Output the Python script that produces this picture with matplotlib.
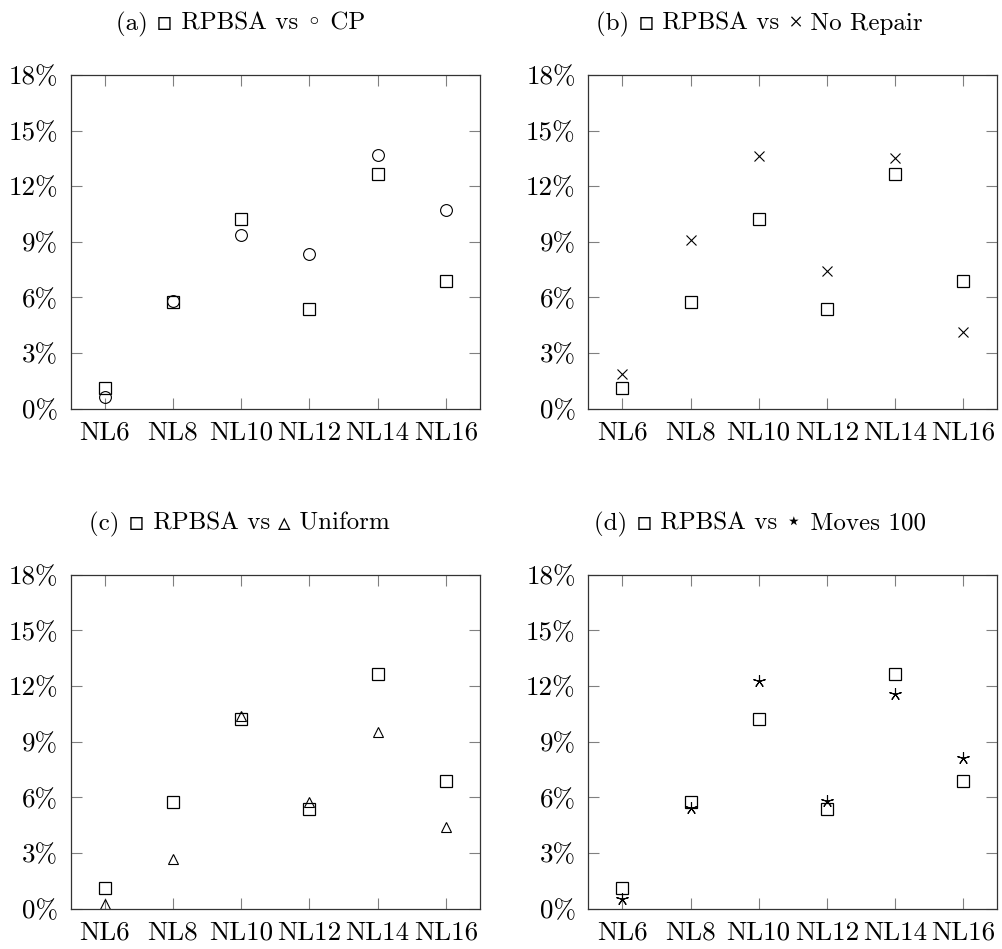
import matplotlib
matplotlib.use("Agg")
import matplotlib.pyplot as plt
from matplotlib.ticker import FuncFormatter

plt.rcParams['font.family'] = ['cmr10', 'DejaVu Sans']
plt.rcParams['axes.unicode_minus'] = False

# instances
instances = ["NL6", "NL8", "NL10", "NL12", "NL14", "NL16"]

# gap values in %
rpbsa = [1.10, 5.77, 10.23, 5.37, 12.64, 6.88]
cp = [0.65, 5.82, 9.36, 8.36, 13.68, 10.71]
no_repair = [1.87, 9.10, 13.62, 7.41, 13.51, 4.12]
uniform = [0.27, 2.66, 10.38, 5.75, 9.50, 4.42]
moves_100 = [0.50, 5.44, 12.25, 5.82, 11.59, 8.14]

y_ticks = [0, 3, 6, 9, 12, 15, 18]

SYM = "DejaVu Sans"
# title parts (text, fallback font), series, marker, marker size, axes rect, title start (px)
panels = [
    ([("(a) ", SYM), ("▫", SYM), (" RPBSA vs ", SYM), ("◦", SYM), (" CP", SYM)],
     cp, "o", 8.5, [0.0704, 0.5693, 0.4086, 0.3517], (116, 30)),
    ([("(b) ", SYM), ("▫", SYM), (" RPBSA vs ", SYM), ("×", "Liberation Serif"), (" No Repair", SYM)],
     no_repair, "x", 6.5, [0.5871, 0.5693, 0.4082, 0.3517], (596, 30)),
    ([("(c) ", SYM), ("▫", SYM), (" RPBSA vs ", SYM), ("▵", SYM), (" Uniform", SYM)],
     uniform, "^", 7.5, [0.0704, 0.0425, 0.4086, 0.3519], (89, 530)),
    ([("(d) ", SYM), ("▫", SYM), (" RPBSA vs ", SYM), ("⋆", SYM), (" Moves 100", SYM)],
     moves_100, (5, 2, 0), 9, [0.5871, 0.0425, 0.4082, 0.3519], (594, 530)),
]

fig = plt.figure(figsize=(10.02, 9.49), dpi=100)
renderer = fig.canvas.get_renderer()
x = list(range(len(instances)))

for parts, other, marker, msize, rect, tpos in panels:
    ax = fig.add_axes(rect)
    ax.plot(x, rpbsa, linestyle="none", marker="s", markersize=8,
            markerfacecolor="none", markeredgecolor="black", markeredgewidth=0.9)
    ax.plot(x, other, linestyle="none", marker=marker, markersize=msize,
            markerfacecolor="none", markeredgecolor="black", markeredgewidth=0.8,
            color="black")
    ax.set_xlim(-0.5, 5.5)
    ax.set_ylim(0, 18)
    ax.set_xticks(x)
    ax.set_xticklabels(instances)
    ax.set_yticks(y_ticks)
    ax.yaxis.set_major_formatter(FuncFormatter(lambda v, p: f"{v:.0f}%"))
    ax.tick_params(direction="in", length=8, width=0.8, color="#808080",
                   top=True, right=True, labelsize=19.5, pad=9)
    for s in ax.spines.values():
        s.set_linewidth(0.9)
        s.set_color("#333333")

    # title pieces on one baseline, so each symbol may use its own font
    px = tpos[0]
    for txt, fb in parts:
        t = fig.text(px / 1002, 1 - tpos[1] / 949, txt, ha="left", va="baseline",
                     fontsize=18, family=['cmr10', fb])
        px += t.get_window_extent(renderer).width

fig.savefig("out.png", dpi=100)
